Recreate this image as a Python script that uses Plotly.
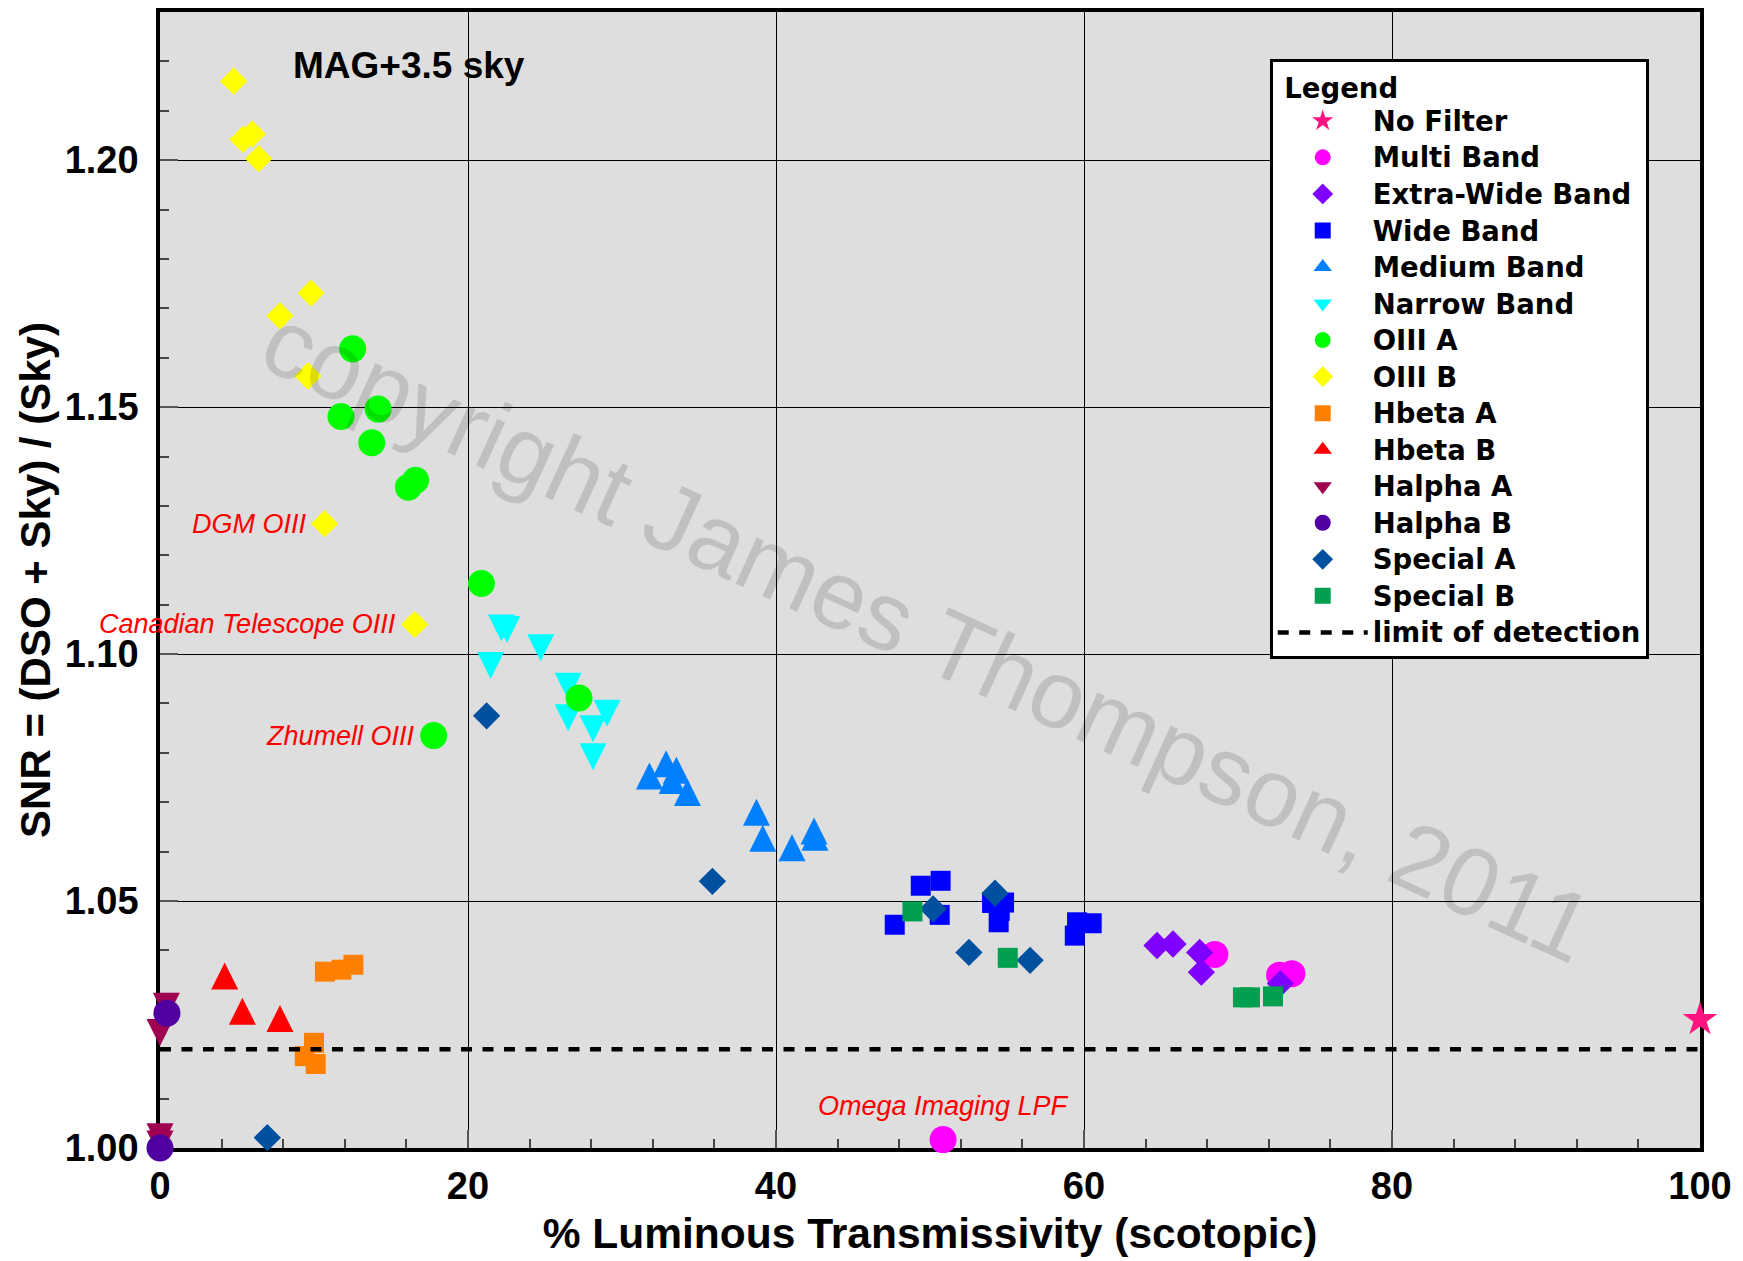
import plotly.graph_objects as go

# ---------------- data ----------------
nofilter_x = [100.0]
nofilter_y = [1.026]

multi_x = [68.5, 72.7, 73.5, 50.85]
multi_y = [1.0392, 1.0350, 1.0353, 1.0017]

xwide_x = [64.74, 65.78, 67.51, 67.62, 72.75]
xwide_y = [1.0410, 1.0413, 1.0396, 1.0356, 1.0333]

wide_x = [49.40, 50.69, 47.71, 50.63, 54.03, 54.81, 54.53, 54.46, 59.55, 60.50, 59.40]
wide_y = [1.0531, 1.0541, 1.0452, 1.0472, 1.0496, 1.0497, 1.0480, 1.0457, 1.0457, 1.0455, 1.0430]

medium_x = [31.78, 32.86, 33.53, 33.25, 34.25, 38.73, 39.14, 41.04, 42.47, 42.53]
medium_y = [1.0753, 1.0778, 1.0765, 1.0744, 1.0720, 1.0680, 1.0627, 1.0608, 1.0642, 1.0629]

narrow_x = [22.17, 22.53, 24.72, 21.47, 26.50, 26.50, 29.03, 28.12, 28.12]
narrow_y = [1.1053, 1.1050, 1.1013, 1.0977, 1.0935, 1.0871, 1.0880, 1.0849, 1.0792]

oiiia_x = [12.51, 11.75, 14.16, 13.75, 16.13, 16.60, 20.87, 27.21, 17.77]
oiiia_y = [1.1618, 1.1481, 1.1496, 1.1428, 1.1338, 1.1352, 1.1143, 1.0911, 1.0835]

oiiib_x = [4.79, 5.39, 6.00, 6.41, 9.81, 7.79, 9.61, 10.69, 16.54]
oiiib_y = [1.2160, 1.2042, 1.2053, 1.2003, 1.1731, 1.1685, 1.1563, 1.1264, 1.1060]

hbetaa_x = [10.71, 11.78, 12.56, 10.00, 9.40, 10.11]
hbetaa_y = [1.0357, 1.0361, 1.0371, 1.0213, 1.0186, 1.0170]

hbetab_x = [4.20, 5.35, 7.79]
hbetab_y = [1.0348, 1.0277, 1.0262]

halphaa_x = [0.41, 0.0, 0.0, 0.0]
halphaa_y = [1.0287, 1.0234, 1.0023, 1.0008]

halphab_x = [0.45, 0.0]
halphab_y = [1.0273, 1.0000]

speciala_x = [21.21, 35.87, 6.97, 50.20, 52.53, 54.22, 56.50]
speciala_y = [1.0875, 1.0540, 1.0021, 1.0484, 1.0396, 1.0516, 1.0380]

specialb_x = [48.86, 55.05, 70.32, 70.78, 72.27]
specialb_y = [1.0479, 1.0385, 1.0305, 1.0305, 1.0307]

limit_x = [0, 100]
limit_y = [1.02, 1.02]

x_ticks = [0, 20, 40, 60, 80, 100]
y_ticks = [1.00, 1.05, 1.10, 1.15, 1.20]

# labelled filters (text, x, y of the point it labels)
labels = [
    ("DGM OIII", 10.69, 1.1264),
    ("Canadian Telescope OIII", 16.54, 1.1060),
    ("Zhumell OIII", 17.77, 1.0835),
]
omega_label = ("Omega Imaging LPF", 50.85, 1.0017)

# ---------------- figure ----------------
LEG = '<span style="font-size:27.5px">%s</span>'
TRI = 27

fig = go.Figure()


def pts(name, x, y, color, symbol, size):
    fig.add_trace(go.Scatter(
        x=x, y=y, mode="markers", name=LEG % name, cliponaxis=False,
        marker=dict(color=color, symbol=symbol, size=size, line=dict(width=0)),
    ))


def tri(name, x, y, color, up):
    # equilateral-looking triangles centred on the point (arrow glyph + standoff)
    fig.add_trace(go.Scatter(
        x=x, y=y, mode="markers", name=LEG % name, cliponaxis=False,
        legendgroup=name, showlegend=False,
        marker=dict(color=color, symbol="arrow-down", size=TRI,
                    angle=180 if up else 0, standoff=TRI / 2, line=dict(width=0)),
    ))
    # legend entry for the same series
    fig.add_trace(go.Scatter(
        x=[None], y=[None], mode="markers", name=LEG % name,
        legendgroup=name, showlegend=True,
        marker=dict(color=color, symbol="triangle-up" if up else "triangle-down",
                    size=16, line=dict(width=0)),
    ))


pts("No Filter", nofilter_x, nofilter_y, "#FF1480", "star", 26)
pts("Multi Band", multi_x, multi_y, "#FF00FF", "circle", 27)
pts("Extra-Wide Band", xwide_x, xwide_y, "#8000FF", "diamond", 21)
pts("Wide Band", wide_x, wide_y, "#0000FF", "square", 20)
tri("Medium Band", medium_x, medium_y, "#0080FF", True)
tri("Narrow Band", narrow_x, narrow_y, "#00FFFF", False)
pts("OIII A", oiiia_x, oiiia_y, "#00FF00", "circle", 27)
pts("OIII B", oiiib_x, oiiib_y, "#FFFF00", "diamond", 21)
pts("Hbeta A", hbetaa_x, hbetaa_y, "#FF8000", "square", 20)
tri("Hbeta B", hbetab_x, hbetab_y, "#FF0000", True)
tri("Halpha A", halphaa_x, halphaa_y, "#A00050", False)
pts("Halpha B", halphab_x, halphab_y, "#5000A0", "circle", 27)
pts("Special A", speciala_x, speciala_y, "#0050A0", "diamond", 21)
pts("Special B", specialb_x, specialb_y, "#00A050", "square", 20)
fig.add_trace(go.Scatter(
    x=limit_x, y=limit_y, mode="lines", name=LEG % "limit of detection",
    line=dict(color="black", width=4.5, dash="11px,10.5px"), cliponaxis=False,
))

FONT = "Liberation Sans, Arial, sans-serif"

axis_common = dict(
    showline=True, linewidth=3.5, linecolor="black", mirror=True,
    showgrid=True, gridcolor="black", gridwidth=1,
    ticks="inside", ticklen=18, tickwidth=2, tickcolor="#555555",
    zeroline=False, layer="below traces",
    tickfont=dict(family=FONT, size=38, color="black", weight="bold"),
)

fig.update_xaxes(
    range=[0, 100], tickvals=x_ticks, ticktext=[str(v) for v in x_ticks],
    minor=dict(dtick=4, tick0=0, ticks="inside", ticklen=9, tickwidth=1.5,
               tickcolor="#444444", showgrid=False),
    title=dict(text="% Luminous Transmissivity (scotopic)", standoff=13,
               font=dict(family=FONT, size=42.5, color="black", weight="bold")),
    ticklabelstandoff=2,
    **axis_common,
)
fig.update_yaxes(
    range=[1.0, 1.23], tickvals=y_ticks, ticktext=["%.2f" % v for v in y_ticks],
    minor=dict(dtick=0.01, tick0=1.0, ticks="inside", ticklen=9, tickwidth=1.5,
               tickcolor="#444444", showgrid=False),
    title=dict(text="SNR = (DSO + Sky) / (Sky)", standoff=2,
               font=dict(family=FONT, size=42, color="black", weight="bold")),
    ticklabelstandoff=10,
    **axis_common,
)

annotations = []
for text, lx, ly in labels:
    annotations.append(dict(
        x=lx, y=ly, xref="x", yref="y", text=text, showarrow=False,
        xanchor="right", yanchor="middle", xshift=-17,
        font=dict(family=FONT, size=27, color="#FF0000", style="italic"),
    ))
annotations.append(dict(
    x=omega_label[1], y=omega_label[2], xref="x", yref="y", text=omega_label[0],
    showarrow=False, xanchor="center", yanchor="middle", yshift=34,
    font=dict(family=FONT, size=27, color="#FF0000", style="italic"),
))
annotations.append(dict(
    x=0.0853, y=0.9533, xref="paper", yref="paper", text="MAG+3.5 sky",
    showarrow=False, xanchor="left", yanchor="middle",
    font=dict(family=FONT, size=37, color="black", weight="bold"),
))
annotations.append(dict(
    x=49.87, y=1.1040, xref="x", yref="y", text="copyright James Thompson, 2011",
    showarrow=False, xanchor="center", yanchor="middle", textangle=24.5,
    font=dict(family=FONT, size=96.7, color="rgba(0,0,0,0.135)"),
))

fig.update_layout(
    width=1743, height=1261,
    margin=dict(l=160, r=43, t=8, b=113, pad=0),
    paper_bgcolor="white", plot_bgcolor="#DEDEDE",
    font=dict(family=FONT, color="black"),
    showlegend=True,
    legend=dict(
        x=0.7206, y=0.9588, xanchor="left", yanchor="top",
        bgcolor="white", bordercolor="black", borderwidth=3,
        font=dict(family="DejaVu Sans", size=25.8, color="black", weight="bold"),
        title=dict(text="\u00a0Legend",
                   font=dict(family="DejaVu Sans", size=27.5, color="black", weight="bold")),
        itemwidth=90, tracegroupgap=0, itemsizing="trace", traceorder="normal",
    ),
    annotations=annotations,
)

fig.write_html(
    "out.html",
    config={"displayModeBar": False},
    post_script="document.body.style.margin='0';document.body.style.overflow='hidden';",
)
